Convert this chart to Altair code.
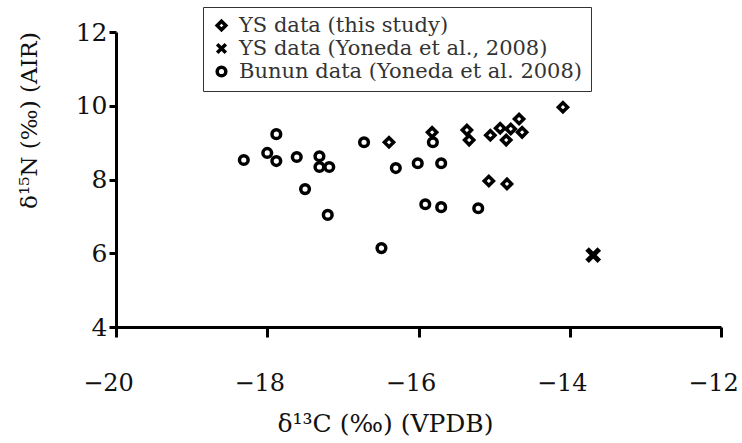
import altair as alt
import pandas as pd

# YS data (this study)
ys_d13c = [-16.39, -15.82, -15.36, -15.33, -15.05, -14.92, -14.84, -14.78, -14.67, -14.63, -14.09, -15.07, -14.83]
ys_d15n = [9.01, 9.28, 9.34, 9.07, 9.20, 9.39, 9.07, 9.37, 9.64, 9.28, 9.96, 7.96, 7.88]

# YS data (Yoneda et al., 2008)
ysy_d13c = [-13.69]
ysy_d15n = [5.95]

# Bunun data (Yoneda et al. 2008)
bun_d13c = [-18.31, -18.00, -17.88, -17.88, -17.61, -17.50, -17.31, -17.31, -17.18, -17.20,
            -16.49, -16.72, -16.30, -16.01, -15.70, -15.81, -15.91, -15.70, -15.21]
bun_d15n = [8.53, 8.72, 9.23, 8.50, 8.61, 7.74, 8.63, 8.34, 8.34, 7.04,
            6.14, 9.01, 8.31, 8.44, 8.44, 9.01, 7.33, 7.25, 7.22]

series = ["YS data (this study)", "YS data (Yoneda et al., 2008)", "Bunun data (Yoneda et al. 2008)"]

rows = []
for name, xs, ys in zip(series, [ys_d13c, ysy_d13c, bun_d13c], [ys_d15n, ysy_d15n, bun_d15n]):
    for a, b in zip(xs, ys):
        rows.append({"d13C": a, "d15N": b, "series": name})
df = pd.DataFrame(rows)

FONT = "DejaVu Serif"

shape_scale = alt.Scale(domain=series, range=["diamond", "M-1,-1L1,1M1,-1L-1,1", "circle"])

legend = alt.Legend(
    title=None, orient="none", legendX=87, legendY=-25,
    labelFont=FONT, labelFontSize=21, labelColor="#333", labelLimit=0,
    strokeColor="#333", padding=8, rowPadding=0, labelOffset=7,
    symbolSize=75, symbolStrokeWidth=3.5,
    symbolStrokeColor="black", symbolFillColor="transparent",
)

x_enc = alt.X("d13C:Q", scale=alt.Scale(domain=[-20, -12], nice=False, zero=False),
              axis=alt.Axis(values=[-20, -18, -16, -14, -12], title="δ¹³C (‰) (VPDB)",
                            tickSize=10, labelPadding=34, labelFlush=False, labelOffset=-8,
                            labelFontSize=24, titleX=269, titleY=96, titleFontSize=25,
                            titleBaseline="middle", titleAlign="center"))
y_enc = alt.Y("d15N:Q", scale=alt.Scale(domain=[4, 12], nice=False, zero=False),
              axis=alt.Axis(values=[4, 6, 8, 10, 12], title="δ¹⁵N (‰) (AIR)",
                            tickSize=7, labelPadding=2, labelFlush=False, titleX=-87, titleY=88,
                            titleAngle=-90, titleBaseline="middle", titleAlign="center"))
shape_enc = alt.Shape("series:N", scale=shape_scale, legend=legend)

styles = {series[0]: (85, 3.5), series[1]: (150, 5), series[2]: (75, 3.5)}

layers = []
for name in series:
    sz, sw = styles[name]
    layers.append(
        alt.Chart(df).transform_filter(alt.datum.series == name)
        .mark_point(filled=False, color="black", opacity=1, size=sz, strokeWidth=sw)
        .encode(x=x_enc, y=y_enc, shape=shape_enc)
    )

chart = alt.layer(*layers).properties(
    width=605, height=295,
    background="white",
    autosize=alt.AutoSizeParams(type="none"),
    padding={"left": 116, "top": 32, "right": 21, "bottom": 116},
).configure_view(stroke=None).configure_axis(
    grid=False, domainColor="black", domainWidth=3, tickColor="black", tickWidth=3,
    labelFont=FONT, labelFontSize=25, labelColor="#111",
    titleFont=FONT, titleFontSize=23, titleColor="#111", titleFontWeight="normal",
)

chart.save("out.html", embed_options={"renderer": "svg", "actions": False})
